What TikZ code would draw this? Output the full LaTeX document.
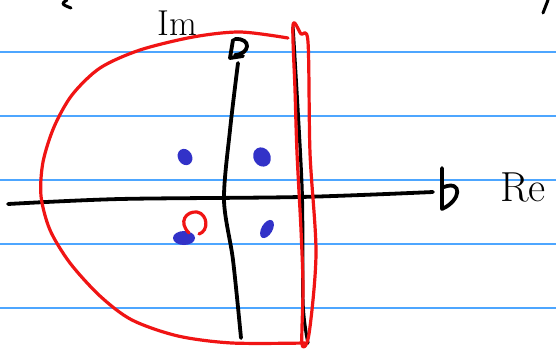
\documentclass[tikz,border=0pt]{standalone}
\usepackage{tikz}
\definecolor{ruleblue}{RGB}{77,166,255}
\definecolor{inkred}{RGB}{240,20,20}
\definecolor{dotblue}{RGB}{50,50,200}
\tikzset{
  ink/.style={line width=3.8pt,line cap=round,line join=round},
  redink/.style={draw=inkred,line width=3.2pt,line cap=round,line join=round},
  pole/.style={fill=dotblue,draw=none},
  label/.style={inner sep=0pt,font=\fontsize{42}{42}\selectfont}
}
\begin{document}
\begin{tikzpicture}[x=1pt,y=-1pt]
\useasboundingbox (0,0) rectangle (556,349);
\fill[white] (0,0) rectangle (556,349);
% ruled paper
\foreach \yy in {52,116,180,244,308}
  \draw[ruleblue,line width=1.4pt] (0,\yy) -- (556,\yy);
% cut-off marks at the top
\draw[ink,line width=3pt] (67,0) .. controls (61,4) .. (71,8);
\draw[ink,line width=3pt] (548,0) -- (543,13);
% real axis
\draw[ink] plot[smooth] coordinates {(8,204) (120,199) (300,197) (433,192)};
\draw[ink] (442,168) -- (442,209) .. controls (462,200) and (462,180) .. (444,187);
\node[label] (re) at (523,187) {Re};
% imaginary axis
\draw[ink] plot[smooth] coordinates {(241,338) (233,260) (224,200) (230,130) (238,63)};
\draw[ink] (233,40) -- (230,58) -- (243,56);
\draw[ink] (235,39) .. controls (252,38) and (250,54) .. (235,55);
\node[label,font=\fontsize{36}{36}\selectfont] (im) at (177,23) {Im};
% vertical line
\draw[ink,line width=3.2pt] plot[smooth] coordinates {(293,27) (302,187) (303,303) (308,343)};
% contour
\draw[redink] plot[smooth] coordinates {(288,38) (240,32) (193,37) (140,50) (100,68)
  (72,95) (54,127) (43,162) (41,196) (50,230) (70,263) (100,296) (132,320) (178,336)
  (232,343) (305,343)};
\draw[redink] plot[smooth cycle] coordinates {(293,25) (295,90) (297,153) (301,230) (303,287)
  (302,344) (309,334) (316,253) (310,153) (308,42) (301,34)};
% poles
\fill[pole,rotate around={30:(185,157)}] (185,157) ellipse (7pt and 8.5pt);
\fill[pole,rotate around={30:(262,157)}] (262,157) ellipse (8.5pt and 10pt);
\fill[pole] (184,238) ellipse (11pt and 7pt);
\fill[pole,rotate around={-30:(267,229)}] (267,229) ellipse (5.5pt and 10pt);
% small loop
\draw[redink] (189,233) .. controls (178,222) and (186,211) .. (197,212)
  .. controls (208,214) and (209,231) .. (199,234);
\end{tikzpicture}
\end{document}
